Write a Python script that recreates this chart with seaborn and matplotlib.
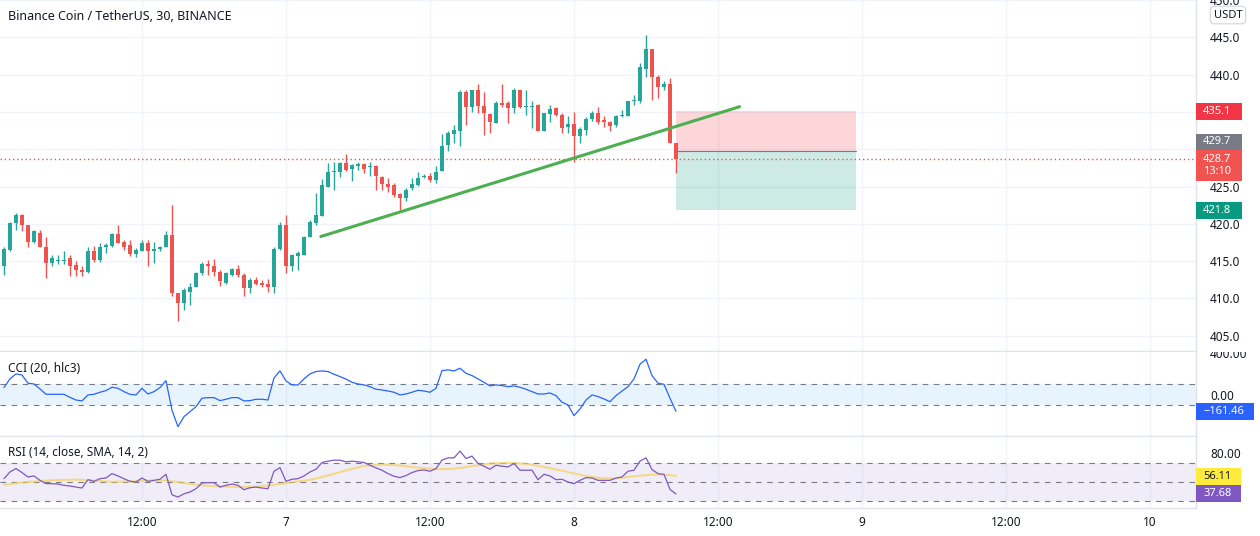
import numpy as np
import matplotlib
matplotlib.use("Agg")
import matplotlib.pyplot as plt
import seaborn as sns
from matplotlib.patches import Rectangle
from matplotlib.transforms import Bbox, TransformedBbox

# 30 min candles
opens = [414.3, 416.5, 420.1, 421.2, 419.8, 417.6, 418.8, 416.9, 414.8, 415.0,
         415.0, 415.4, 414.5, 413.8, 413.5, 416.4, 415.2, 416.9, 417.0, 418.6,
         417.6, 417.2, 416.0, 416.4, 417.5, 416.4, 416.6, 416.9, 418.5, 410.7,
         409.4, 410.9, 411.6, 413.4, 414.6, 414.4, 413.6, 412.1, 413.2, 413.9,
         413.2, 411.4, 412.5, 412.1, 411.9, 411.5, 416.6, 419.9, 414.4, 415.7,
         415.8, 418.3, 420.1, 421.1, 425.0, 426.9, 426.9, 428.2, 427.3, 427.7,
         428.0, 427.6, 427.8, 426.3, 425.3, 425.2, 424.0, 423.5, 424.8, 425.2,
         426.3, 426.4, 425.9, 427.1, 430.6, 432.1, 432.5, 437.7, 435.6, 437.9,
         435.8, 434.7, 433.5, 436.2, 436.2, 435.5, 437.9, 435.6, 435.7, 435.9,
         432.5, 434.7, 435.5, 434.6, 433.0, 433.4, 431.8, 432.6, 434.1, 434.9,
         433.9, 433.7, 433.2, 434.4, 434.5, 436.4, 436.4, 440.8, 443.4, 439.7,
         438.3, 438.8, 430.9]
highs = [416.9, 420.2, 421.4, 421.3, 419.8, 419.2, 419.2, 418.3, 415.8, 415.8,
         416.4, 415.8, 415.0, 414.3, 416.9, 417.0, 417.4, 417.5, 418.8, 419.9,
         417.8, 417.8, 416.7, 417.8, 417.8, 417.6, 417.0, 419.0, 422.5, 410.8,
         411.4, 412.1, 413.5, 414.9, 415.2, 415.3, 413.8, 413.6, 414.1, 414.5,
         413.4, 412.7, 412.9, 412.5, 412.6, 416.9, 420.2, 421.2, 416.0, 416.3,
         418.4, 420.5, 424.1, 426.0, 428.2, 428.3, 428.3, 429.4, 428.0, 428.3,
         428.1, 428.3, 427.9, 426.4, 426.1, 425.5, 424.2, 424.8, 426.1, 426.9,
         426.7, 426.8, 427.7, 432.1, 432.4, 433.3, 437.9, 438.0, 438.0, 438.8,
         437.7, 434.9, 436.4, 438.8, 436.4, 438.2, 438.0, 437.9, 436.4, 436.1,
         434.9, 435.9, 435.7, 434.9, 434.5, 435.0, 433.0, 434.3, 435.1, 435.6,
         434.4, 433.8, 434.6, 435.2, 436.5, 437.3, 441.6, 445.3, 443.5, 440.0,
         439.2, 439.6, 430.9]
lows = [413.2, 416.4, 419.2, 419.0, 416.9, 417.4, 416.9, 412.7, 414.3, 414.6,
        414.6, 413.0, 413.0, 413.0, 413.4, 414.9, 414.9, 416.1, 416.9, 417.5,
        416.5, 415.7, 415.5, 416.3, 414.3, 414.7, 416.4, 416.9, 410.3, 407.0,
        408.5, 409.1, 411.5, 413.2, 413.2, 413.0, 411.7, 411.9, 413.0, 412.9,
        410.3, 410.8, 411.8, 411.6, 410.9, 410.8, 416.5, 413.4, 413.7, 413.8,
        415.8, 418.3, 419.9, 421.1, 425.0, 424.5, 426.3, 427.1, 425.7, 427.2,
        426.8, 426.4, 424.6, 424.6, 424.3, 423.6, 421.9, 423.0, 424.6, 425.1,
        426.1, 425.6, 425.5, 427.1, 429.8, 430.9, 430.4, 433.3, 435.0, 434.8,
        431.9, 432.2, 433.5, 435.7, 433.5, 434.8, 435.5, 434.6, 432.8, 432.5,
        432.5, 433.7, 434.4, 432.2, 432.2, 428.3, 430.9, 431.9, 433.8, 433.4,
        433.0, 432.5, 433.0, 434.3, 434.5, 435.9, 436.2, 439.7, 436.6, 436.8,
        437.9, 430.8, 426.8]
closes = [416.6, 420.1, 421.2, 419.8, 417.6, 419.0, 416.9, 414.8, 415.4, 415.1,
          415.2, 414.4, 413.8, 413.5, 416.4, 415.2, 416.9, 417.2, 418.7, 417.5,
          416.9, 416.0, 416.5, 417.5, 416.4, 416.6, 416.9, 418.5, 410.7, 409.4,
          411.1, 411.6, 413.4, 414.6, 414.3, 413.6, 412.3, 413.4, 413.9, 413.2,
          411.4, 412.5, 412.0, 411.8, 411.5, 416.6, 419.9, 414.3, 415.8, 416.1,
          418.3, 420.3, 421.2, 425.2, 426.9, 427.0, 428.1, 427.2, 427.9, 428.0,
          427.4, 427.7, 426.4, 425.3, 425.0, 423.9, 423.5, 424.6, 425.4, 426.2,
          426.4, 425.9, 427.0, 430.5, 432.2, 432.6, 437.7, 435.6, 437.9, 435.8,
          434.8, 433.7, 436.2, 435.9, 435.5, 437.9, 435.7, 435.8, 435.8, 432.5,
          434.8, 435.4, 434.6, 432.9, 433.4, 431.8, 432.7, 434.1, 434.9, 433.6,
          433.7, 433.1, 434.4, 434.6, 436.4, 436.6, 441.0, 443.4, 439.7, 438.3,
          438.8, 430.9, 428.7]

cci = [68, 152, 200, 190, 110, 103, 55, 3, 3, 3,
       3, -26, -52, -61, -3, 3, 23, 39, 71, 61,
       29, 3, -3, 61, 6, 29, 68, 135, -150, -310,
       -213, -165, -116, -35, -29, -29, -58, -45, -29, -29,
       -61, -58, -45, -45, -52, 160, 230, 132, 94, 94,
       152, 200, 223, 229, 223, 197, 174, 150, 119, 103,
       94, 77, 52, 45, 35, 23, -3, 6, 23, 42,
       35, 23, 61, 232, 239, 229, 255, 206, 184, 152,
       119, 84, 94, 87, 77, 84, 71, 52, 29, 6,
       6, 16, -10, -74, -100, -203, -139, -52, -3, -19,
       -42, -68, -10, 35, 77, 152, 294, 342, 184, 110,
       100, -35, -161.46]

rsi = [53.4, 60.3, 63.8, 59.7, 55.2, 56.2, 51.7, 48.3, 48.3, 47.9,
       46.6, 45.9, 44.8, 43.8, 52.4, 50.7, 53.4, 54.1, 58.6, 56.2,
       53.4, 50.7, 50.0, 54.1, 50.7, 51.7, 52.8, 57.9, 36.9, 34.5,
       37.9, 39.7, 43.1, 49.0, 49.3, 49.3, 44.8, 46.6, 47.9, 46.6,
       42.1, 44.1, 44.8, 43.8, 43.1, 61.0, 64.8, 50.7, 52.8, 53.4,
       56.2, 60.3, 63.1, 70.0, 71.4, 72.4, 72.4, 70.7, 71.4, 70.7,
       70.0, 67.2, 64.5, 62.1, 58.6, 55.9, 54.5, 56.6, 59.7, 61.7,
       62.4, 61.0, 63.8, 72.4, 74.8, 74.8, 81.7, 74.1, 76.6, 69.0,
       66.2, 63.1, 67.2, 66.2, 65.5, 69.0, 62.1, 62.1, 62.1, 52.4,
       57.9, 56.2, 52.4, 52.8, 50.0, 48.3, 51.7, 54.5, 54.1, 51.7,
       51.7, 51.7, 54.1, 55.2, 61.0, 62.1, 71.4, 74.8, 62.8, 58.6,
       57.9, 42.4, 37.68]

# RSI-based MA, read at every third candle
rsi_ma_candles = [0, 3, 6, 9, 12, 15, 18, 21, 24, 27, 30, 33, 36, 39, 42, 45, 48,
                  51, 54, 57, 60, 63, 66, 69, 72, 75, 78, 81, 84, 87, 90, 93, 96,
                  99, 102, 105, 108, 111, 112]
rsi_ma = [47.1, 49.5, 51.0, 52.0, 52.4, 51.4, 50.2, 50.5, 51.5, 51.7, 49.0, 46.5,
          45.4, 44.8, 45.2, 47.0, 49.8, 52.2, 56.7, 61.9, 66.5, 67.9, 67.0, 64.7,
          63.1, 63.6, 66.3, 68.9, 69.7, 68.7, 65.5, 61.6, 57.4, 54.2, 53.6, 55.9,
          57.6, 57.2, 56.11]

# drawings (hours since the 6th, 00:00)
trend_hours = [26.9, 61.8]
trend_prices = [418.3, 435.7]
box_hours = [56.5, 71.5]
box_stop, box_entry, box_target = 435.1, 429.7, 421.8

tick_hours = [12, 24, 36, 48, 60, 72, 84, 96]
tick_labels = ["12:00", "7", "12:00", "8", "12:00", "9", "12:00", "10"]

price_ticks = [405, 410, 415, 420, 425, 430, 435, 440, 445, 450]
hidden_price_labels = [430, 435]  # covered by the price tags in the original

UP, DOWN = "#26a69a", "#ef5350"
TXT = "#131722"
GRID = "#f0f3fa"
SEP = "#e0e3eb"

sns.set_theme(style="white")
plt.rcParams["font.family"] = ["Noto Sans", "DejaVu Sans"]

W, H = 1260, 536
fig = plt.figure(figsize=(W / 100, H / 100), dpi=100)


def rect(left, top, right, bottom):
    return [left / W, 1 - bottom / H, (right - left) / W, (bottom - top) / H]


ax_p = fig.add_axes(rect(0, 0, 1196, 351))
ax_c = fig.add_axes(rect(0, 352, 1196, 436), sharex=ax_p)
ax_r = fig.add_axes(rect(0, 437, 1196, 508), sharex=ax_p)

hours = 0.5 + 0.5 * np.arange(len(opens))
o, h, l, c = map(np.array, (opens, highs, lows, closes))
cols = np.where(c >= o, UP, DOWN)

for ax in (ax_p, ax_c, ax_r):
    ax.set_facecolor("white")
    for s in ("top", "left"):
        ax.spines[s].set_visible(False)
    for s in ("right", "bottom"):
        ax.spines[s].set_color(SEP)
        ax.spines[s].set_linewidth(1)
    ax.yaxis.tick_right()
    ax.tick_params(axis="y", length=0, pad=10, labelsize=8.5, labelcolor=TXT)
    ax.tick_params(axis="x", length=0)
    ax.set_xticks(tick_hours)
    ax.grid(axis="x", color=GRID, lw=1)
    ax.set_axisbelow(True)

ax_p.set_xlim(0.17, 99.83)

# --- price pane ---
ax_p.vlines(hours, l, h, colors=cols, lw=1, zorder=3)
ax_p.bar(hours, np.maximum(np.abs(c - o), 0.12), bottom=np.minimum(o, c),
         width=0.38, color=cols, lw=0, zorder=3)
ax_p.set_ylim(402.96, 450.0)
ax_p.set_yticks(price_ticks, labels=["" if v in hidden_price_labels else f"{v:.1f}"
                                     for v in price_ticks])
ax_p.grid(axis="y", color=GRID, lw=1)
ax_p.tick_params(axis="x", labelbottom=False)

ax_p.fill_between(box_hours, box_entry, box_stop, color="#f23645", alpha=0.2, lw=0, zorder=2)
ax_p.fill_between(box_hours, box_target, box_entry, color="#089981", alpha=0.2, lw=0, zorder=2)
ax_p.plot(box_hours, [box_entry, box_entry], color="#787b86", lw=0.8, zorder=2)
ax_p.axhline(closes[-1], color=DOWN, lw=1, ls=(0, (1, 2)), zorder=2)
ax_p.plot(trend_hours, trend_prices, color="#4caf50", lw=2.2, solid_capstyle="round", zorder=4)

# --- CCI pane ---
ax_c.axhspan(-100, 100, color="#2196f3", alpha=0.1, lw=0)
for v in (100, -100):
    ax_c.axhline(v, color="#787b86", lw=0.8, ls=(0, (5, 5)))
sns.lineplot(x=hours, y=cci, ax=ax_c, color="#2962ff", lw=0.9)
ax_c.set_ylim(-400, 412)
ax_c.set_yticks([0, 400], labels=["0.00", "400.00"])
ax_c.tick_params(axis="x", labelbottom=False)
clip = TransformedBbox(Bbox([[0, 0], [1, 1 - 352 / H]]), fig.transFigure)
for t in ax_c.yaxis.get_major_ticks():
    t.label2.set_clip_box(clip)
    t.label2.set_clip_on(True)

# --- RSI pane ---
ax_r.axhspan(30, 70, color="#7e57c2", alpha=0.1, lw=0)
for v in (70, 50, 30):
    ax_r.axhline(v, color="#787b86", lw=0.8, ls=(0, (5, 5)))
sns.lineplot(x=hours[rsi_ma_candles], y=rsi_ma, ax=ax_r, color="#f5cf4a", lw=1.5, alpha=0.65)
sns.lineplot(x=hours, y=rsi, ax=ax_r, color="#7e57c2", lw=0.9)
ax_r.set_ylim(23.3, 96.2)
ax_r.set_yticks([80], labels=["80.00"])
ax_r.set_xticks(tick_hours, labels=tick_labels)
ax_r.tick_params(axis="x", labelsize=8.5, labelcolor=TXT, pad=6)
for ax in (ax_p, ax_c, ax_r):
    ax.set_xlabel("")
    ax.set_ylabel("")

# --- texts ---
fig.text(8 / W, 1 - 17 / H, "Binance Coin / TetherUS, 30, BINANCE", fontsize=9,
         fontweight="semibold", color=TXT, va="center", ha="left")
fig.text(8 / W, 1 - 368 / H, "CCI (20, hlc3)", fontsize=8.5, color=TXT, va="center")
fig.text(8 / W, 1 - 453 / H, "RSI (14, close, SMA, 14, 2)", fontsize=8.5, color=TXT, va="center")
fig.text(1228 / W, 1 - 15 / H, "USDT", fontsize=8, color=TXT, ha="center", va="center",
         bbox=dict(boxstyle="round,pad=0.3,rounding_size=0.4", fc="white", ec="#d1d4dc", lw=0.8))

inv = fig.transFigure.inverted()


def tag(ax, value, label, fc, tc="white", width=46, height=17, shift=0):
    x_d, y_d = ax.transData.transform((ax.get_xlim()[1], value))
    fx, fy = inv.transform((x_d, y_d + shift))
    fig.patches.append(Rectangle((fx, fy - height / 2 / H), width / W, height / H,
                                 transform=fig.transFigure, fc=fc, ec="none"))
    fig.text(fx + 7 / W, fy, label, color=tc, fontsize=8, va="center", ha="left",
             linespacing=1.15)


fig.canvas.draw()
tag(ax_p, box_stop, f"{box_stop:.1f}", "#f23645")
tag(ax_p, box_entry, f"{box_entry:.1f}", "#787b86", height=16, shift=9.5)
tag(ax_p, closes[-1], f"{closes[-1]:.1f}\n13:10", "#f05350", height=31, shift=-6.6)
tag(ax_p, box_target, f"{box_target:.1f}", "#089981")
tag(ax_c, cci[-1], f"\u2212{abs(cci[-1]):.2f}", "#2962ff", width=58)
tag(ax_r, rsi_ma[-1], f"{rsi_ma[-1]:.2f}", "#ffeb3b", tc=TXT, width=45)
tag(ax_r, rsi[-1], f"{rsi[-1]:.2f}", "#7e57c2", width=45)

fig.savefig("out.png", dpi=100, facecolor="white")
